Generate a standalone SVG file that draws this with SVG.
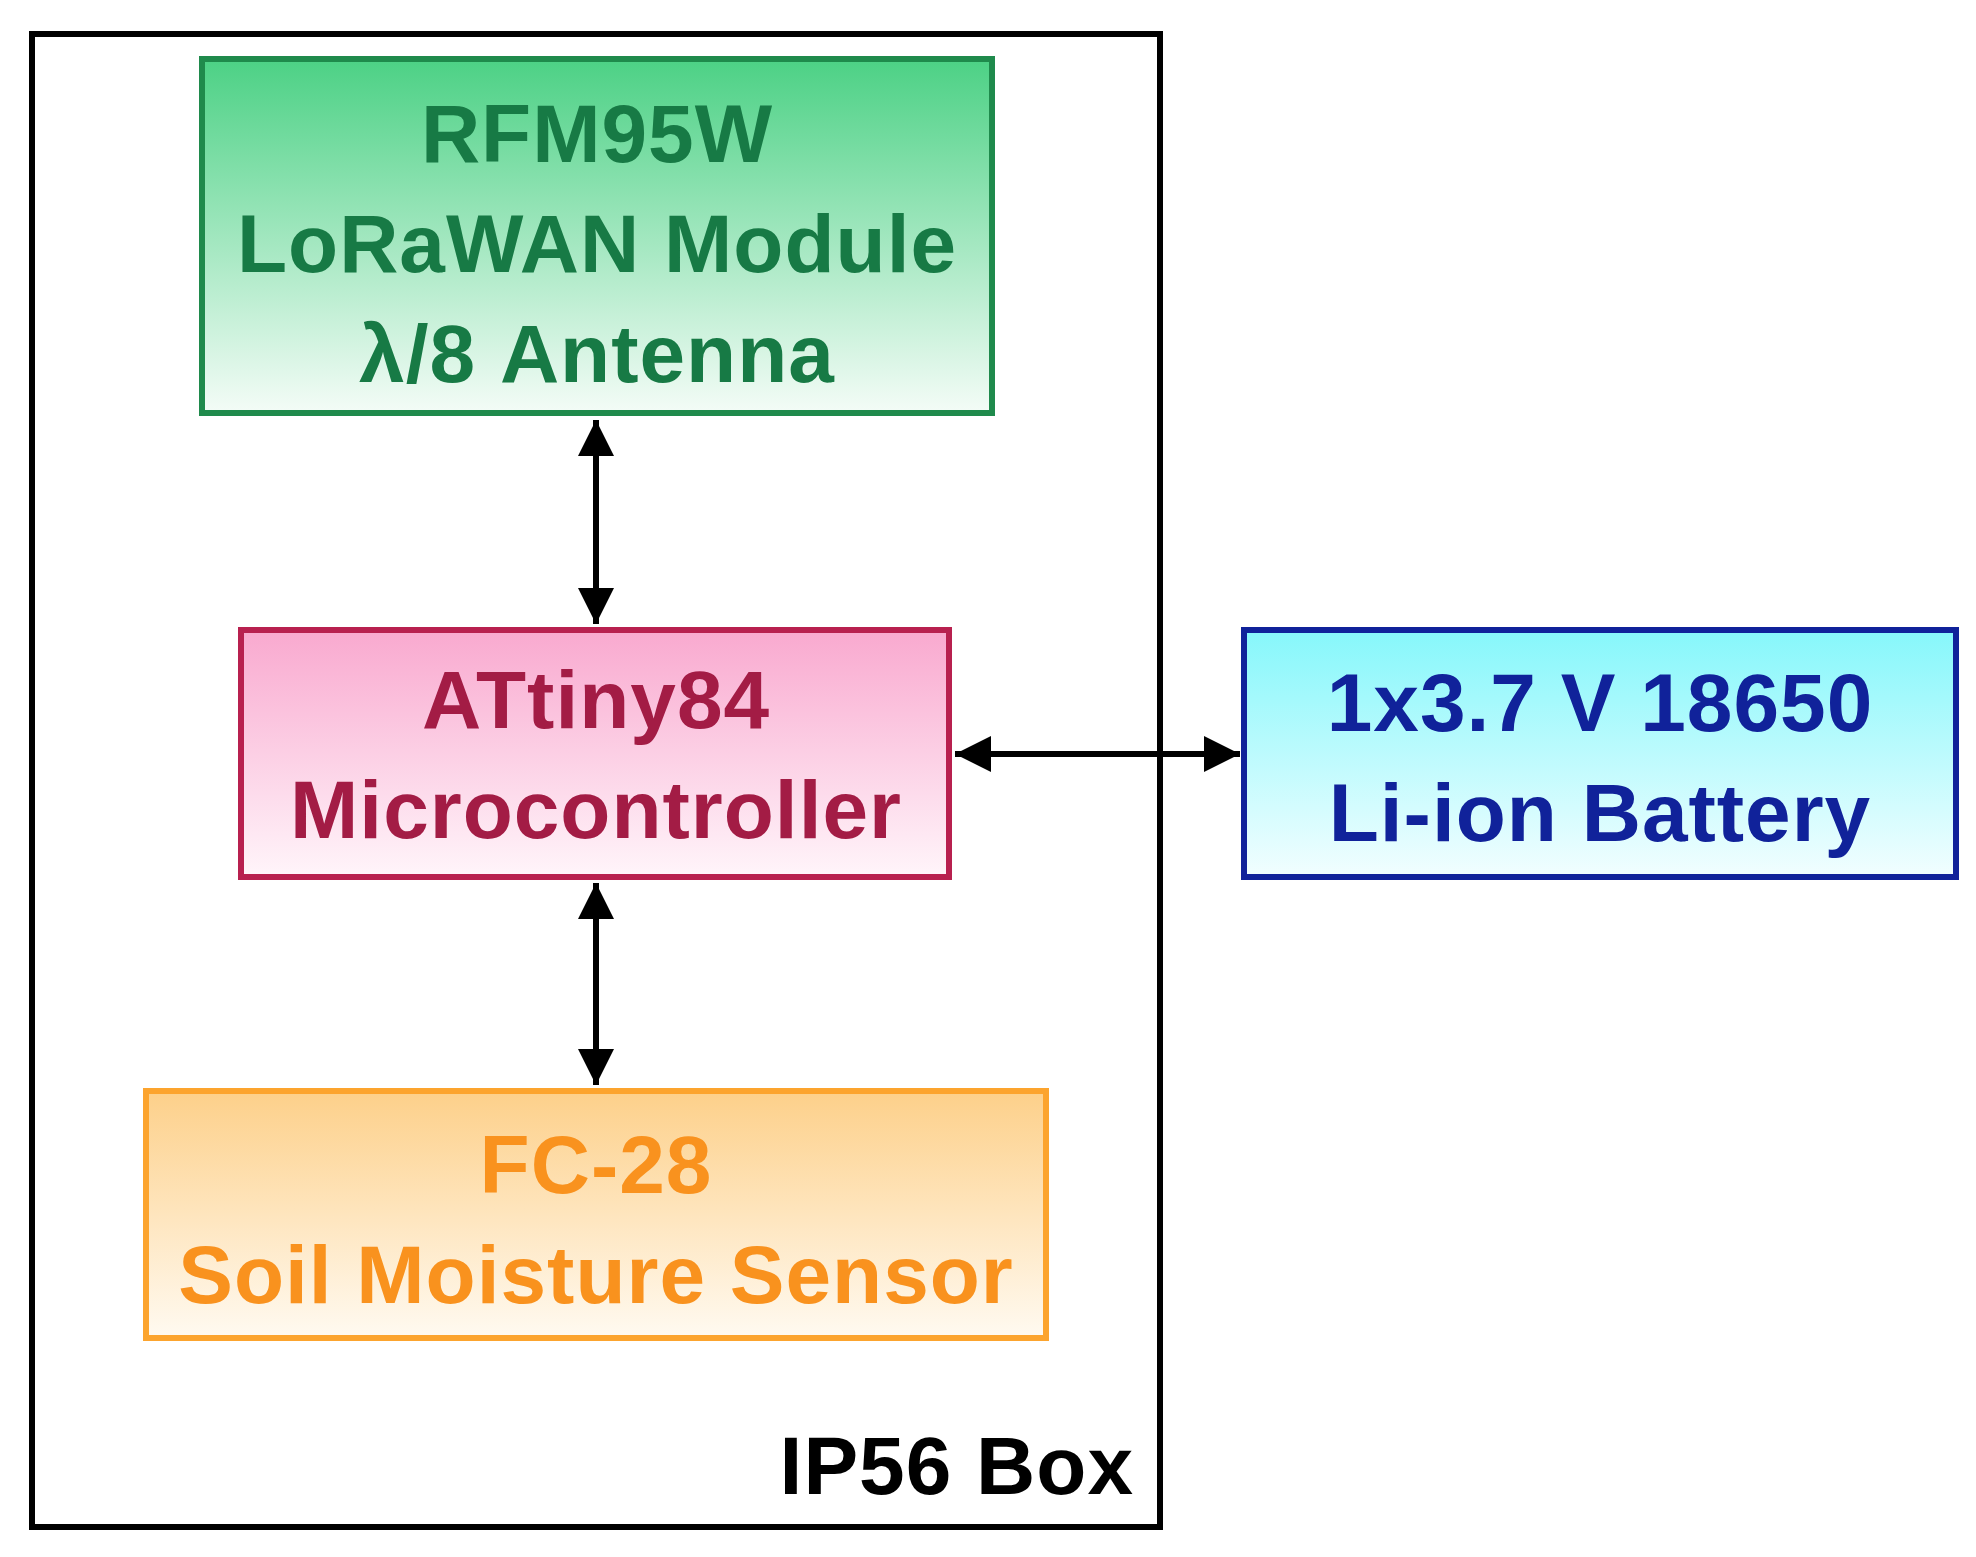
<svg xmlns="http://www.w3.org/2000/svg" width="1976" height="1557" viewBox="0 0 1976 1557">
<defs>
<linearGradient id="gG" x1="0" y1="0" x2="0" y2="1"><stop offset="0" stop-color="#4cd185"/><stop offset="1" stop-color="#f4fcf7"/></linearGradient>
<linearGradient id="gP" x1="0" y1="0" x2="0" y2="1"><stop offset="0" stop-color="#f9a9cf"/><stop offset="1" stop-color="#fff5fa"/></linearGradient>
<linearGradient id="gO" x1="0" y1="0" x2="0" y2="1"><stop offset="0" stop-color="#fdd08a"/><stop offset="1" stop-color="#fffaf1"/></linearGradient>
<linearGradient id="gB" x1="0" y1="0" x2="0" y2="1"><stop offset="0" stop-color="#86f7fb"/><stop offset="1" stop-color="#f2feff"/></linearGradient>
<marker id="ah" viewBox="0 0 10 10" refX="10" refY="5" markerWidth="6" markerHeight="6" orient="auto-start-reverse" markerUnits="strokeWidth"><path d="M0,0 L10,5 L0,10 z" fill="#000"/></marker>
</defs>
<style>
text{font-family:"Liberation Sans",Arial,sans-serif;font-weight:bold;font-size:82px;letter-spacing:1px;text-anchor:middle}
.c{stroke:#000;stroke-width:6;fill:none}
</style>
<rect width="1976" height="1557" fill="#fff"/>
<g id="box"><rect x="32" y="34" width="1128" height="1493" fill="none" stroke="#000" stroke-width="6"/><text x="1134" y="1494" style="text-anchor:end">IP56 Box</text></g>
<g id="lora"><rect x="202" y="59" width="790" height="354" fill="url(#gG)" stroke="#1f8a4c" stroke-width="6"/><g fill="#177a45"><text x="597" y="162">RFM95W</text><text x="597" y="272">LoRaWAN Module</text><text x="597" y="382">λ/8 Antenna</text></g></g>
<g id="mcu"><rect x="241" y="630" width="708" height="247" fill="url(#gP)" stroke="#b8204f" stroke-width="6"/><g fill="#a31c45"><text x="596" y="728">ATtiny84</text><text x="596" y="838">Microcontroller</text></g></g>
<g id="sensor"><rect x="146" y="1091" width="900" height="247" fill="url(#gO)" stroke="#fca42e" stroke-width="6"/><g fill="#f9921e"><text x="596" y="1193">FC-28</text><text x="596" y="1303">Soil Moisture Sensor</text></g></g>
<g id="battery"><rect x="1244" y="630" width="712" height="247" fill="url(#gB)" stroke="#10229a" stroke-width="6"/><g fill="#10229a"><text x="1600" y="731">1x3.7 V 18650</text><text x="1600" y="841">Li-ion Battery</text></g></g>
<g id="connectors">
<line class="c" x1="596" y1="420" x2="596" y2="624" marker-start="url(#ah)" marker-end="url(#ah)"/>
<line class="c" x1="596" y1="883" x2="596" y2="1085" marker-start="url(#ah)" marker-end="url(#ah)"/>
<line class="c" x1="955" y1="754" x2="1240" y2="754" marker-start="url(#ah)" marker-end="url(#ah)"/>
</g>
</svg>
